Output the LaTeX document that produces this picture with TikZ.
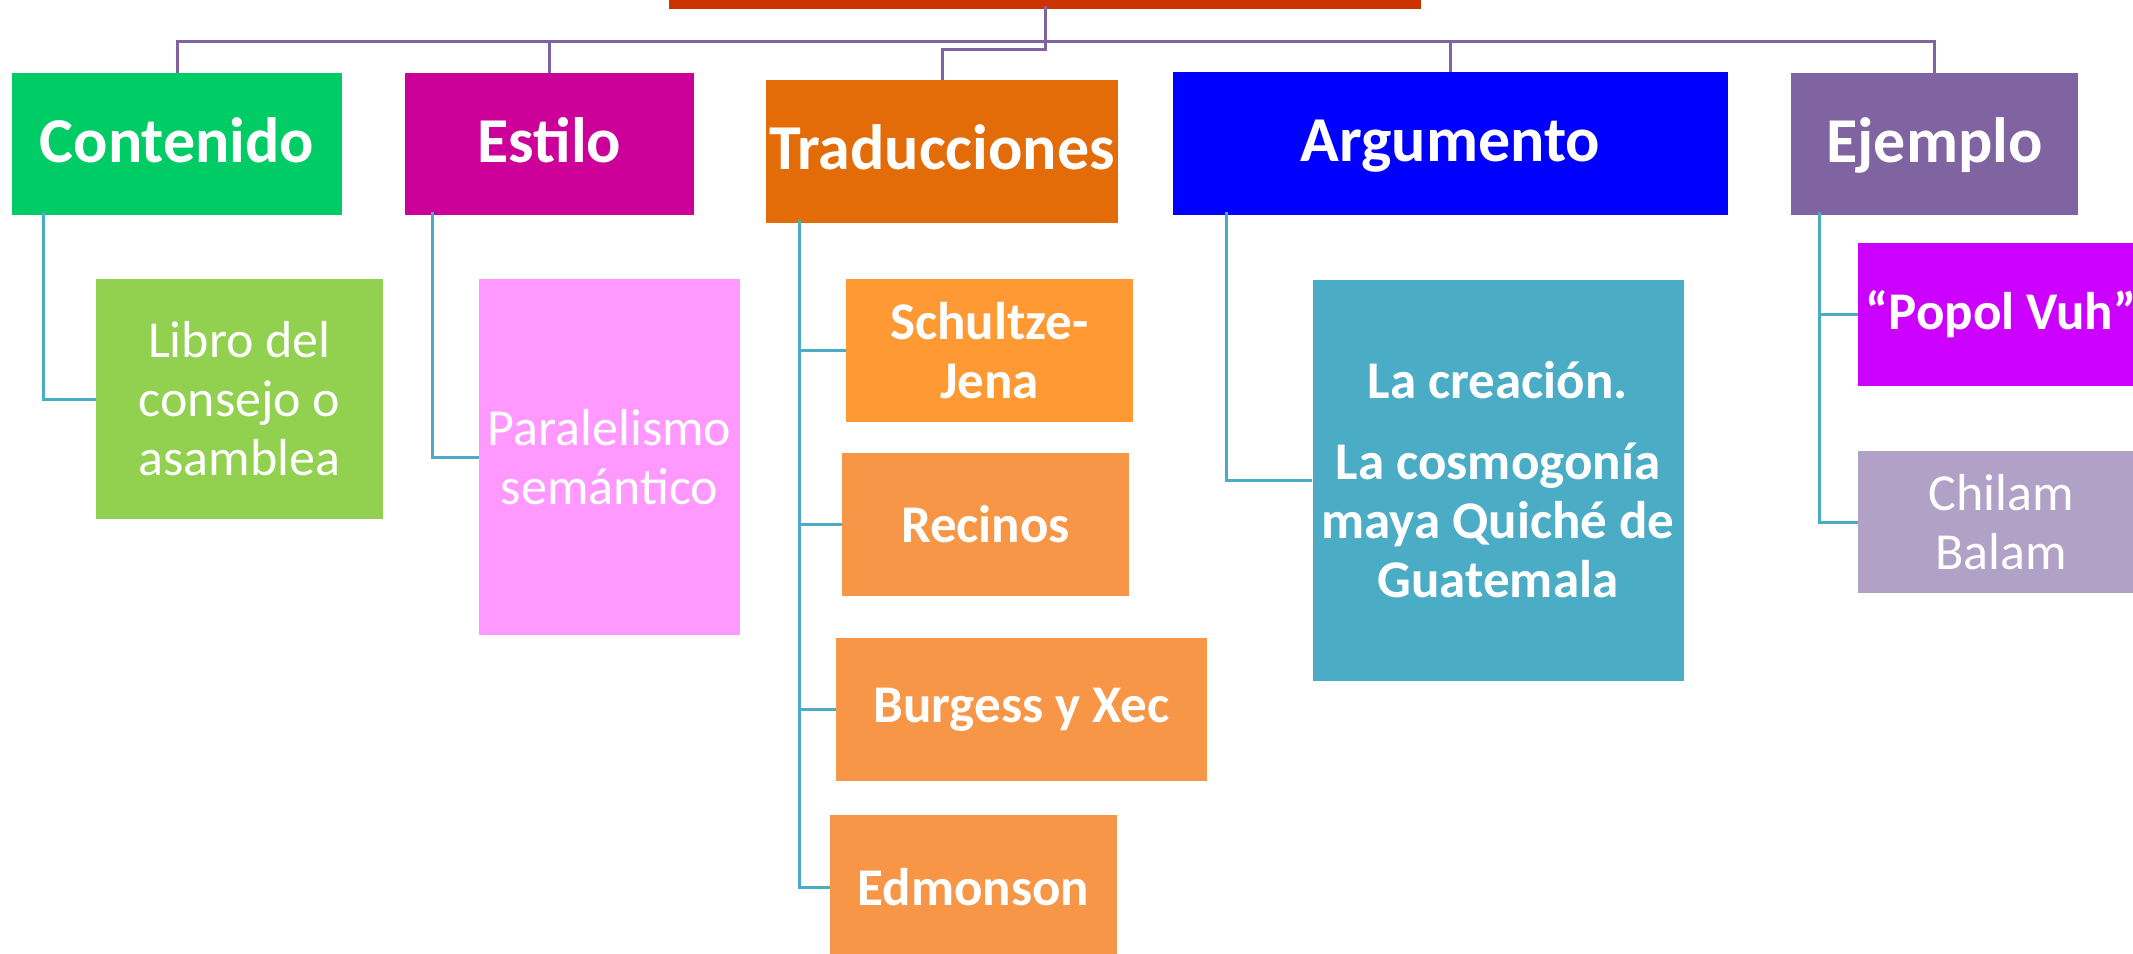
\documentclass[tikz,border=0pt]{standalone}
\usepackage{fontspec}
\setmainfont{Carlito}
\usepackage{tikz}

\definecolor{barra}{RGB}{204,51,0}
\definecolor{verde}{RGB}{0,204,102}
\definecolor{verdeclaro}{RGB}{146,208,80}
\definecolor{magenta}{RGB}{204,0,153}
\definecolor{rosa}{RGB}{255,153,255}
\definecolor{naranjaosc}{RGB}{227,108,9}
\definecolor{naranjavivo}{RGB}{255,153,51}
\definecolor{naranja}{RGB}{247,150,70}
\definecolor{azul}{RGB}{0,0,255}
\definecolor{turquesa}{RGB}{75,172,198}
\definecolor{morado}{RGB}{128,100,162}
\definecolor{violeta}{RGB}{204,0,255}
\definecolor{lila}{RGB}{178,161,199}

\begin{document}
\begin{tikzpicture}[x=1pt,y=-1pt,
  caja/.style={rectangle,inner sep=0pt,text=white,align=center},
  cabeza/.style={caja,minimum height=142,text height=46,text depth=10,
    font=\fontsize{64}{70}\selectfont\bfseries},
  hijo/.style={caja,font=\fontsize{53}{59}\selectfont\bfseries},
  hijofino/.style={caja,font=\fontsize{52}{59}\selectfont},
  toplink/.style={draw=morado,line width=3},
  sublink/.style={draw=turquesa,line width=3}]
\clip (0,0) rectangle (2133,953);

\node[caja,fill=barra,minimum width=752,minimum height=9] (titulo) at (1045,4.5) {};

\node[cabeza,fill=verde,minimum width=330] (contenido) at (177,144) {Contenido};
\node[cabeza,fill=magenta,minimum width=289] (estilo) at (549.5,144) {Estilo};
\node[cabeza,fill=naranjaosc,minimum width=352,minimum height=143] (traducciones) at (942,151.5) {Traducciones};
\node[cabeza,fill=azul,minimum width=555,minimum height=143] (argumento) at (1450.5,143.5) {Argumento};
\node[cabeza,fill=morado,minimum width=287] (ejemplo) at (1934.5,144) {Ejemplo};

\node[hijofino,fill=verdeclaro,minimum width=287,minimum height=240] (libro) at (239.5,399) {Libro del\\consejo o\\asamblea};
\node[hijofino,fill=rosa,minimum width=261,minimum height=356] (paralelismo) at (609.5,457) {Paralelismo\\sem\'antico};

\node[hijo,fill=naranjavivo,minimum width=287,minimum height=143] (schultze) at (989.5,350.5) {Schultze-\\Jena};
\node[hijo,fill=naranja,minimum width=287,minimum height=143] (recinos) at (985.5,524.5) {Recinos};
\node[hijo,fill=naranja,minimum width=371,minimum height=143] (burgess) at (1021.5,709.5) {Burgess y Xec};
\node[hijo,fill=naranja,minimum width=287,minimum height=144] (edmonson) at (973.5,887) {Edmonson};

\node[hijo,fill=turquesa,minimum width=371,minimum height=401] (creacion) at (1498,480) {La creaci\'on.\\[22pt]La cosmogon\'ia\\maya Quich\'e de\\Guatemala};

\node[hijo,fill=violeta,minimum width=286,minimum height=143] (popol) at (2001,314.5) {``Popol Vuh''};
\node[hijofino,fill=lila,minimum width=286,minimum height=142] (chilam) at (2001,522) {Chilam\\Balam};

% ramas de arriba
\coordinate (bus) at (1045,41);
\draw[toplink] ([yshift=3]titulo.south) -- (bus);
\draw[toplink] (contenido.north) |- (bus) -| (ejemplo.north);
\draw[toplink] (estilo.north) -- (estilo.north |- bus);
\draw[toplink] (argumento.north) -- (argumento.north |- bus);
\draw[toplink] (bus) -- ++(0,8) -| (traducciones.north);

% ramas de abajo
\draw[sublink] ([xshift=32,yshift=3]contenido.south west) |- (libro.west);
\draw[sublink] ([xshift=28,yshift=3]estilo.south west) |- (paralelismo.west);
\foreach \h in {schultze,recinos,burgess,edmonson}
  \draw[sublink] ([xshift=34,yshift=3]traducciones.south west) |- (\h.west);
\draw[sublink] ([xshift=54,yshift=3]argumento.south west) |- (creacion.west);
\foreach \h in {popol,chilam}
  \draw[sublink] ([xshift=29,yshift=3]ejemplo.south west) |- (\h.west);
\end{tikzpicture}
\end{document}
